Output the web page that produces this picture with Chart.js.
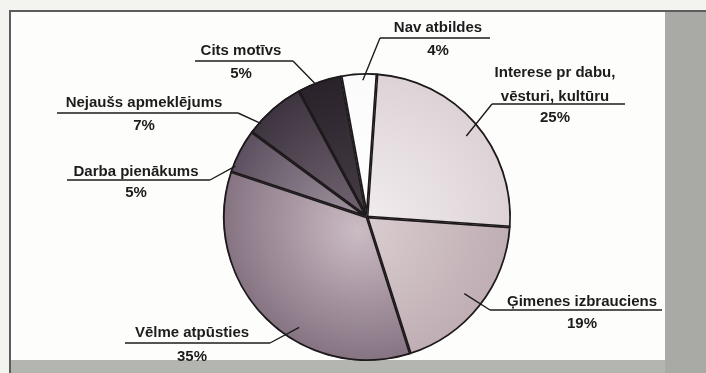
<!DOCTYPE html>
<html lang="lv">
<head>
<meta charset="UTF-8">
<title>Apmeklējuma motīvi</title>
<style>
  body { margin: 0; background: #f3f3f0; }
  .wrap { position: relative; width: 706px; height: 373px; overflow: hidden; }
  .topline { position: absolute; left: 9px; top: 10px; width: 697px; height: 2px; background: #5a5e5c; }
  .leftline { position: absolute; left: 9px; top: 10px; width: 2px; height: 363px; background: #5a5e5c; }
  .panel { position: absolute; left: 11px; top: 12px; width: 654px; height: 348px; background: #fdfdfb; }
  .side { position: absolute; left: 665px; top: 12px; width: 41px; height: 361px; background: #a9aaa6; }
  .bottom { position: absolute; left: 11px; top: 360px; width: 654px; height: 13px; background: #b4b5b1; }
  canvas { position: absolute; left: 0; top: 0; }
</style>
<script src="https://cdn.jsdelivr.net/npm/chart.js"></script>
</head>
<body>
<div class="wrap">
  <div class="panel"></div>
  <div class="side"></div>
  <div class="bottom"></div>
  <div class="topline"></div>
  <div class="leftline"></div>
  <canvas id="pie" width="706" height="373"></canvas>
</div>
<script>
// dati
const categories = [
  ['Interese pr dabu,', 'vēsturi, kultūru'],
  ['Ģimenes izbrauciens'],
  ['Vēlme atpūsties'],
  ['Darba pienākums'],
  ['Nejaušs apmeklējums'],
  ['Cits motīvs'],
  ['Nav atbildes']
];
const shares = [25, 19, 35, 5, 7, 5, 4];

// krāsas: [ārējā, iekšējā]
const sliceColors = [
  ['#ddd3d6', '#f3eeef'],
  ['#bfaeb3', '#dacdd0'],
  ['#857382', '#cbbbc3'],
  ['#5c5060', '#a699a4'],
  ['#3d3440', '#786a76'],
  ['#29222a', '#4a3f48'],
  ['#fbfbfb', '#ffffff']
];

// etiķešu izkārtojums (px); t = vieta gar loku, r = attālums no centra
const labelLayout = [
  { cx: 555, lines: [73, 97], line: 104, x1: 492, x2: 625, pct: 118, from: 'left', t: 0.52, r: 0.89 },
  { cx: 582, lines: [302], line: 310, x1: 490, x2: 662, pct: 324, from: 'left', t: 0.5, r: 0.86 },
  { cx: 192, lines: [333], line: 343, x1: 125, x2: 270, pct: 357, from: 'right', t: 0.39, r: 0.9 },
  { cx: 136, lines: [172], line: 180, x1: 67, x2: 210, pct: 193, from: 'right', t: 0.15, r: 0.98 },
  { cx: 144, lines: [103], line: 113, x1: 57, x2: 238, pct: 126, from: 'right', t: 0.2, r: 0.98 },
  { cx: 241, lines: [51], line: 61, x1: 195, x2: 293, pct: 74, from: 'right', t: 0.4, r: 0.99 },
  { cx: 438, lines: [28], line: 38, x1: 380, x2: 490, pct: 51, from: 'left', t: 0.6, r: 0.95 }
];

function sliceFill(ctx) {
  const chart = ctx.chart;
  const a = chart.chartArea;
  if (!a) return sliceColors[ctx.dataIndex][0];
  const cx = (a.left + a.right) / 2, cy = (a.top + a.bottom) / 2;
  const r = Math.min(a.right - a.left, a.bottom - a.top) / 2;
  const g = chart.ctx.createRadialGradient(cx - 10, cy + 15, 0, cx, cy, r);
  const c = sliceColors[ctx.dataIndex];
  g.addColorStop(0, c[1]);
  g.addColorStop(1, c[0]);
  return g;
}

const leaderLabels = {
  id: 'leaderLabels',
  afterDraw(chart) {
    const ctx = chart.ctx;
    const meta = chart.getDatasetMeta(0);
    ctx.save();
    ctx.fillStyle = '#1c1c1c';
    ctx.strokeStyle = '#1c1c1c';
    ctx.lineWidth = 1.4;
    ctx.font = 'bold 15px "Liberation Sans", Arial, sans-serif';
    ctx.textAlign = 'center';
    ctx.textBaseline = 'middle';
    meta.data.forEach((arc, i) => {
      const L = labelLayout[i];
      const p = arc.getProps(['x', 'y', 'startAngle', 'endAngle', 'outerRadius'], true);
      const ang = p.startAngle + (p.endAngle - p.startAngle) * L.t;
      const ex = p.x + Math.cos(ang) * p.outerRadius * L.r;
      const ey = p.y + Math.sin(ang) * p.outerRadius * L.r;
      const sx = L.from === 'left' ? L.x1 : L.x2;
      ctx.beginPath();
      ctx.moveTo(L.x1, L.line);
      ctx.lineTo(L.x2, L.line);
      ctx.moveTo(sx, L.line);
      ctx.lineTo(ex, ey);
      ctx.stroke();
      categories[i].forEach((t, k) => ctx.fillText(t, L.cx, L.lines[k]));
      ctx.fillText(shares[i] + '%', L.cx, L.pct);
    });
    ctx.restore();
  }
};

new Chart(document.getElementById('pie'), {
  type: 'pie',
  data: {
    labels: categories.map(c => c.join(' ')),
    datasets: [{
      data: shares,
      backgroundColor: sliceFill,
      borderColor: '#1e1a1c',
      borderWidth: 1.5,
      borderAlign: 'inner'
    }]
  },
  options: {
    responsive: false,
    animation: false,
    rotation: 4,
    layout: { padding: { left: 223, right: 195, top: 73, bottom: 12 } },
    plugins: { legend: { display: false }, tooltip: { enabled: false } }
  },
  plugins: [leaderLabels]
});
</script>
</body>
</html>
